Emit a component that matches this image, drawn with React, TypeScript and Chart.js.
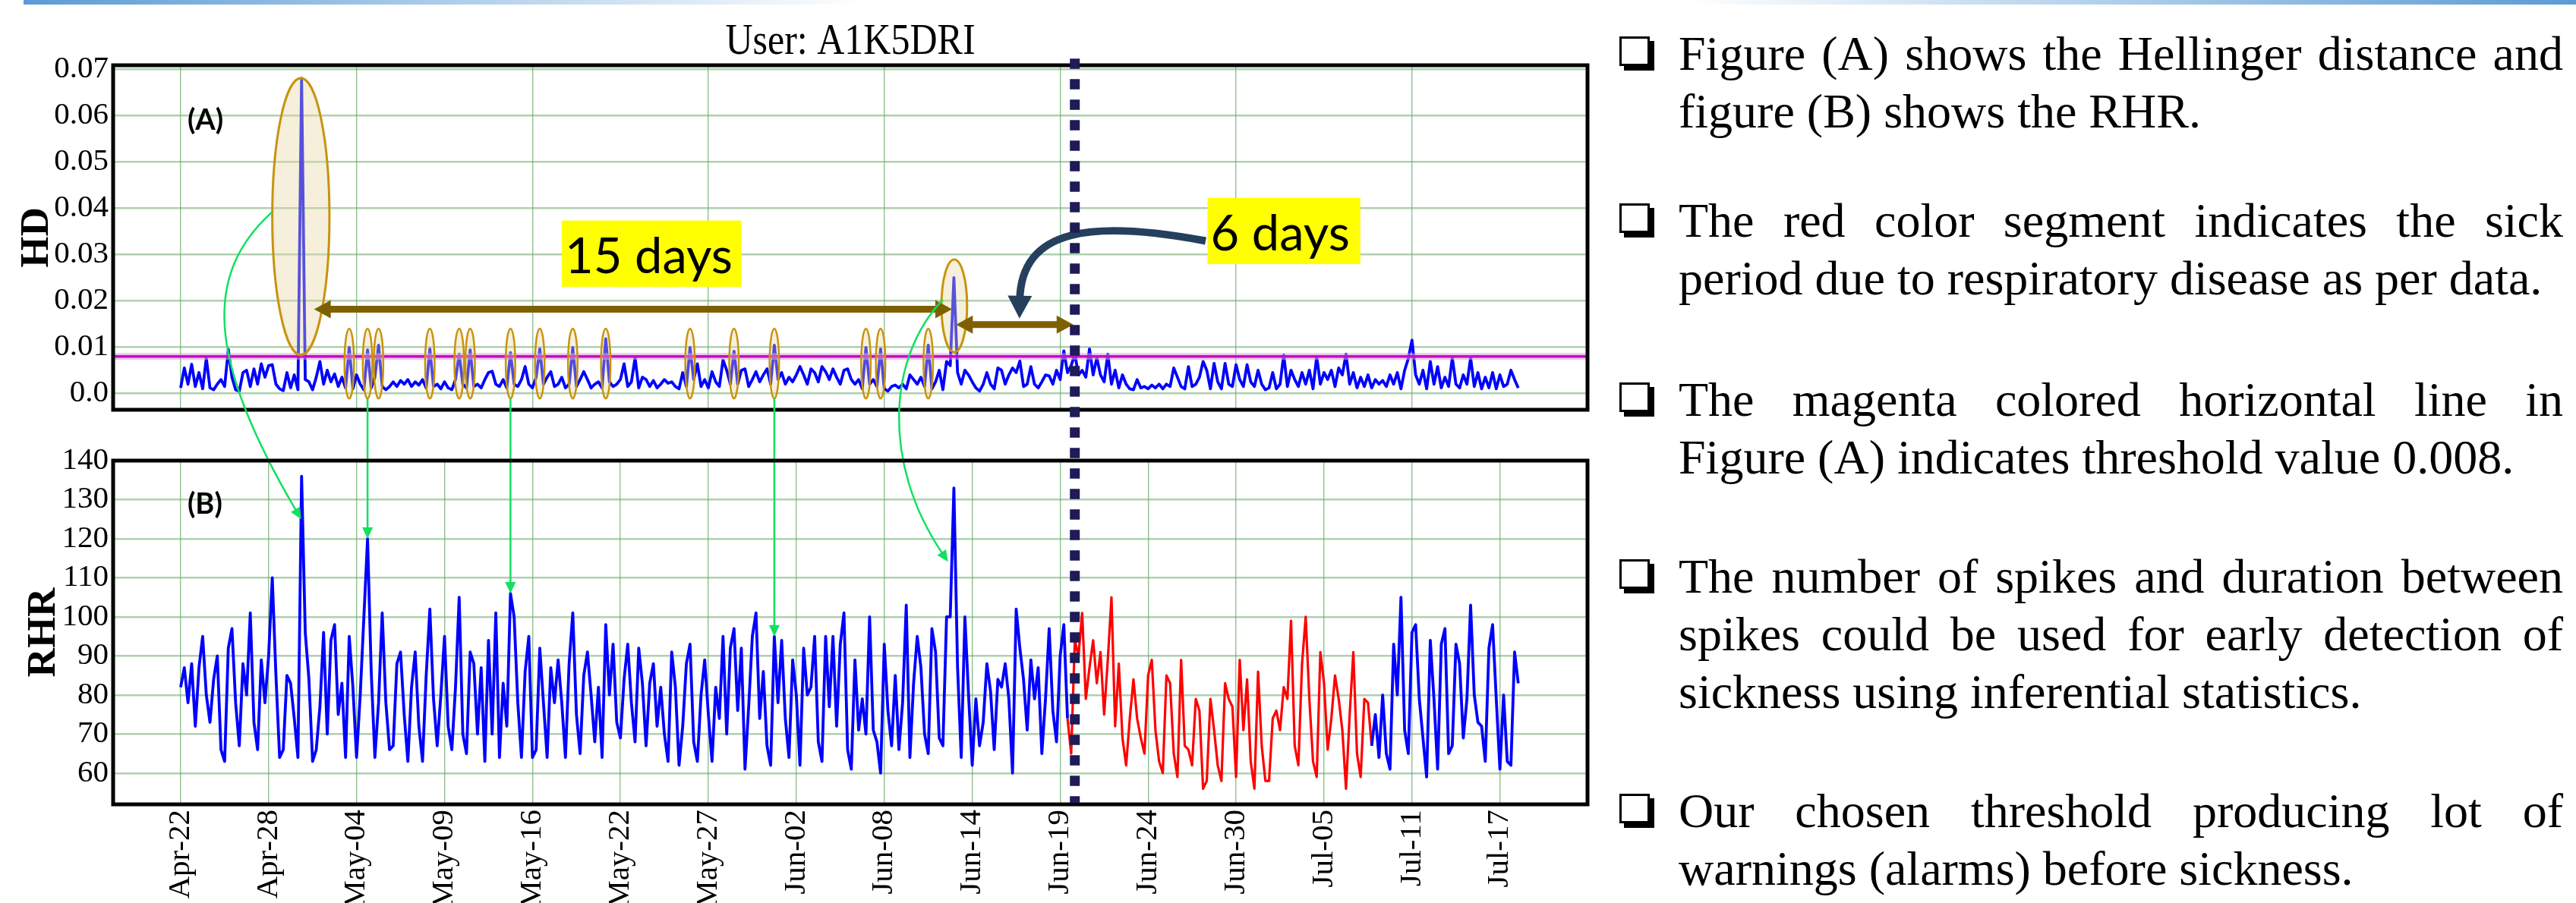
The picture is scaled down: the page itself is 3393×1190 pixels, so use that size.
import React, { useEffect, useRef } from 'react';
import { Chart, registerables } from 'chart.js';

Chart.register(...registerables);

// ---------------- data ----------------
const X_LABELS = ['Apr-22', 'Apr-28', 'May-04', 'May-09', 'May-16', 'May-22', 'May-27', 'Jun-02', 'Jun-08', 'Jun-14', 'Jun-19', 'Jun-24', 'Jun-30', 'Jul-05', 'Jul-11', 'Jul-17'];
const SAMPLES_PER_TICK = 24;

const HD_VALUES = [
  0.0012, 0.0055, 0.0020, 0.0063, 0.0015, 0.0045, 0.0010, 0.0076, 0.0012, 0.0008, 0.0020, 0.0030,
  0.0015, 0.0095, 0.0035, 0.0008, 0.0005, 0.0045, 0.0050, 0.0015, 0.0053, 0.0020, 0.0064, 0.0035,
  0.0060, 0.0062, 0.0020, 0.0010, 0.0006, 0.0045, 0.0012, 0.0040, 0.0008, 0.0680, 0.0030, 0.0025,
  0.0008, 0.0035, 0.0069, 0.0020, 0.0050, 0.0025, 0.0042, 0.0015, 0.0035, 0.0012, 0.0099, 0.0010,
  0.0040, 0.0020, 0.0008, 0.0094, 0.0012, 0.0035, 0.0104, 0.0015, 0.0008, 0.0015, 0.0025, 0.0015,
  0.0028, 0.0020, 0.0030, 0.0015, 0.0025, 0.0018, 0.0030, 0.0012, 0.0096, 0.0015, 0.0020, 0.0010,
  0.0025, 0.0012, 0.0008, 0.0030, 0.0085, 0.0020, 0.0012, 0.0094, 0.0015, 0.0020, 0.0012, 0.0030,
  0.0045, 0.0048, 0.0020, 0.0015, 0.0030, 0.0012, 0.0088, 0.0020, 0.0015, 0.0030, 0.0058, 0.0020,
  0.0012, 0.0035, 0.0096, 0.0020, 0.0035, 0.0047, 0.0015, 0.0020, 0.0035, 0.0012, 0.0020, 0.0099,
  0.0015, 0.0030, 0.0047, 0.0030, 0.0012, 0.0020, 0.0025, 0.0012, 0.0118, 0.0025, 0.0015, 0.0020,
  0.0030, 0.0064, 0.0015, 0.0025, 0.0077, 0.0012, 0.0035, 0.0030, 0.0015, 0.0028, 0.0012, 0.0020,
  0.0030, 0.0022, 0.0025, 0.0015, 0.0010, 0.0045, 0.0015, 0.0099, 0.0030, 0.0064, 0.0015, 0.0030,
  0.0012, 0.0047, 0.0025, 0.0015, 0.0072, 0.0050, 0.0020, 0.0091, 0.0020, 0.0050, 0.0053, 0.0015,
  0.0030, 0.0047, 0.0025, 0.0040, 0.0053, 0.0020, 0.0104, 0.0030, 0.0045, 0.0020, 0.0035, 0.0025,
  0.0040, 0.0058, 0.0040, 0.0020, 0.0053, 0.0045, 0.0025, 0.0058, 0.0047, 0.0030, 0.0053, 0.0035,
  0.0020, 0.0050, 0.0053, 0.0030, 0.0020, 0.0030, 0.0010, 0.0099, 0.0020, 0.0030, 0.0015, 0.0096,
  0.0010, 0.0005, 0.0015, 0.0018, 0.0012, 0.0020, 0.0010, 0.0040, 0.0030, 0.0020, 0.0035, 0.0015,
  0.0104, 0.0010, 0.0025, 0.0050, 0.0008, 0.0069, 0.0060, 0.0250, 0.0045, 0.0020, 0.0050, 0.0040,
  0.0025, 0.0012, 0.0005, 0.0020, 0.0045, 0.0020, 0.0010, 0.0055, 0.0050, 0.0020, 0.0040, 0.0055,
  0.0045, 0.0070, 0.0015, 0.0020, 0.0058, 0.0020, 0.0012, 0.0025, 0.0040, 0.0038, 0.0020, 0.0050,
  0.0030, 0.0092, 0.0045, 0.0060, 0.0085, 0.0040, 0.0050, 0.0035, 0.0096, 0.0040, 0.0077, 0.0040,
  0.0025, 0.0085, 0.0020, 0.0050, 0.0012, 0.0040, 0.0020, 0.0010, 0.0008, 0.0030, 0.0012, 0.0015,
  0.0010, 0.0018, 0.0012, 0.0020, 0.0010, 0.0020, 0.0015, 0.0055, 0.0035, 0.0015, 0.0010, 0.0058,
  0.0015, 0.0020, 0.0035, 0.0069, 0.0050, 0.0010, 0.0065, 0.0025, 0.0010, 0.0065, 0.0020, 0.0015,
  0.0062, 0.0030, 0.0015, 0.0062, 0.0025, 0.0015, 0.0050, 0.0020, 0.0008, 0.0012, 0.0045, 0.0010,
  0.0020, 0.0083, 0.0015, 0.0050, 0.0030, 0.0015, 0.0045, 0.0020, 0.0050, 0.0010, 0.0080, 0.0020,
  0.0045, 0.0030, 0.0050, 0.0015, 0.0055, 0.0040, 0.0085, 0.0020, 0.0045, 0.0012, 0.0035, 0.0015,
  0.0040, 0.0012, 0.0030, 0.0020, 0.0028, 0.0015, 0.0040, 0.0020, 0.0045, 0.0010, 0.0050, 0.0075,
  0.0115, 0.0040, 0.0020, 0.0050, 0.0010, 0.0069, 0.0020, 0.0058, 0.0012, 0.0035, 0.0015, 0.0077,
  0.0020, 0.0012, 0.0040, 0.0020, 0.0077, 0.0015, 0.0045, 0.0010, 0.0035, 0.0012, 0.0045, 0.0010,
  0.0040, 0.0015, 0.0020, 0.0050, 0.0030, 0.0012,
];

const RHR_VALUES = [
  82, 87, 78, 88, 72, 87, 95, 80, 73, 84, 90, 66,
  63, 92, 97, 78, 67, 88, 80, 101, 73, 66, 89, 78,
  90, 110, 85, 64, 66, 85, 83, 74, 64, 136, 96, 84,
  63, 66, 77, 96, 70, 94, 98, 75, 83, 64, 95, 82,
  64, 80, 100, 120, 86, 64, 78, 101, 78, 66, 67, 88,
  91, 75, 63, 82, 91, 72, 63, 85, 102, 79, 67, 80,
  95, 72, 66, 82, 105, 70, 65, 91, 88, 70, 87, 63,
  94, 70, 101, 64, 83, 72, 106, 100, 78, 64, 86, 95,
  64, 66, 92, 78, 64, 87, 78, 89, 78, 64, 88, 101,
  75, 65, 85, 91, 80, 68, 82, 64, 98, 80, 93, 73,
  69, 84, 93, 78, 68, 92, 83, 67, 83, 88, 72, 82,
  70, 63, 91, 82, 62, 72, 88, 93, 68, 63, 80, 89,
  75, 63, 82, 74, 95, 70, 92, 97, 76, 92, 61, 77,
  95, 101, 74, 86, 67, 62, 95, 78, 94, 74, 64, 89,
  80, 62, 92, 80, 82, 95, 68, 63, 95, 77, 95, 72,
  93, 101, 66, 61, 89, 71, 79, 70, 100, 71, 68, 60,
  93, 76, 67, 85, 66, 78, 103, 64, 83, 95, 87, 70,
  65, 97, 91, 69, 67, 100, 100, 133, 87, 64, 100, 80,
  62, 79, 67, 73, 88, 81, 66, 84, 82, 88, 79, 60,
  102, 92, 84, 71, 89, 79, 87, 65, 79, 97, 76, 68,
  90, 98, 74, 65, 94, 90, 101, 79, 87, 94, 83, 91,
  75, 89, 105, 72, 88, 69, 62, 74, 84, 74, 69, 65,
  85, 89, 71, 63, 60, 85, 83, 65, 59, 89, 67, 66,
  62, 79, 76, 56, 58, 79, 71, 62, 58, 83, 79, 77,
  59, 89, 71, 84, 63, 56, 86, 67, 58, 58, 74, 76,
  71, 82, 79, 99, 67, 62, 88, 100, 79, 63, 59, 91,
  83, 66, 74, 85, 79, 71, 56, 75, 91, 65, 59, 79,
  78, 67, 75, 64, 80, 65, 61, 93, 80, 105, 71, 65,
  96, 98, 79, 69, 59, 94, 79, 61, 93, 97, 65, 67,
  93, 88, 69, 79, 103, 80, 73, 72, 63, 92, 98, 79,
  61, 80, 63, 62, 91, 83,
];

const HD_TICKS = [0, 0.01, 0.02, 0.03, 0.04, 0.05, 0.06, 0.07];
const HD_TICK_LABELS = ['0.0', '0.01', '0.02', '0.03', '0.04', '0.05', '0.06', '0.07'];
const RHR_TICKS = [60, 70, 80, 90, 100, 110, 120, 130, 140];
const HD_THRESHOLD = 0.008;
const SICK_START = 242;
const SICK_END = 325;
const ONSET_IDX = 244;
const X_RANGE = [-18.43, 383.9];
const HD_RANGE = [-0.00352, 0.0708];
const RHR_RANGE = [52, 140];

// alarm spikes (sample index) circled in figure (A)
const ALARM_IDX = [46, 51, 54, 68, 76, 79, 90, 98, 107, 116, 139, 151, 162, 187, 191, 204];
const MAJOR_ALARMS = [
  { idx: 32.8, half: 7.8, top: 0.068, bottom: 0.0083 },
  { idx: 211.1, half: 3.5, top: 0.0289, bottom: 0.0089 },
];
const SPAN_ARROWS = [
  { from: 36.4, to: 210.5, y: 0.01815 },
  { from: 211.6, to: 243.6, y: 0.01487 },
];
const CALLOUTS = [
  { text: '15 days', x0: 104, x1: 153, y0: 0.0373, y1: 0.023 },
  { text: '6 days', x0: 280.2, x1: 321.9, y0: 0.0422, y1: 0.0279 },
];
const STRAIGHT_LINKS = [51, 90, 162];
const CURVED_LINKS = [
  { p: [[24.9, 0.0391, 'A'], [6.6, 0.026, 'A'], [6.6, 0.008, 'A'], [32.9, 125, 'B']] },
  { p: [[208, 0.02025, 'A'], [193.1, 0.008, 'A'], [191, 139.5, 'B'], [209.4, 114.1, 'B']] },
];
const NAVY_ARROW = [[279.7, 0.0329], [249, 0.03746], [229.3, 0.0358], [228.9, 0.01615]];

const NOTES = [
  ['Figure (A) shows the Hellinger distance and', 'figure (B) shows the RHR.'],
  ['The red color segment indicates the sick', 'period due to respiratory disease as per data.'],
  ['The magenta colored horizontal line in', 'Figure (A) indicates threshold value 0.008.'],
  ['The number of spikes and duration between', 'spikes could be used for early detection of', 'sickness using inferential statistics.'],
  ['Our chosen threshold producing lot of', 'warnings (alarms) before sickness.'],
];

// ---------------- layout ----------------
const CW = 2200;
const CH = 1190;
const PLOT_LEFT = 149;
const PLOT_RIGHT = 2091;
const A_TOP = 86;
const A_BOTTOM = 540;
const B_TOP = 607;
const B_BOTTOM = 1060;
const NOTE_BASELINES = [92, 312, 548, 781, 1090];
const NOTE_GAP = 76;

const SERIF = '"Liberation Serif", "Times New Roman", serif';
const SANS = 'Lato, "Open Sans", sans-serif';
const H_GRID = 'rgba(110,170,110,0.55)';
const V_GRID = 'rgba(70,150,70,0.6)';
const GREEN = '#12E060';

function arrowHead(ctx: CanvasRenderingContext2D, tx: number, ty: number, ux: number, uy: number, len: number, half: number) {
  const bx = tx - ux * len;
  const by = ty - uy * len;
  ctx.beginPath();
  ctx.moveTo(tx, ty);
  ctx.lineTo(bx - uy * half, by + ux * half);
  ctx.lineTo(bx + uy * half, by - ux * half);
  ctx.closePath();
  ctx.fill();
}

function curveArrow(ctx: CanvasRenderingContext2D, p0: any, p1: any, p2: any, tip: any, width: number, len: number, half: number, color: string) {
  const dx = tip.x - p2.x;
  const dy = tip.y - p2.y;
  const d = Math.hypot(dx, dy) || 1;
  const ux = dx / d;
  const uy = dy / d;
  ctx.strokeStyle = color;
  ctx.fillStyle = color;
  ctx.lineWidth = width;
  ctx.lineCap = 'butt';
  const bx = tip.x - ux * len * 0.8;
  const by = tip.y - uy * len * 0.8;
  ctx.beginPath();
  ctx.moveTo(p0.x, p0.y);
  ctx.bezierCurveTo(p1.x, p1.y, p2.x, p2.y, bx, by);
  ctx.stroke();
  arrowHead(ctx, tip.x, tip.y, ux, uy, len, half);
}

function spanArrow(ctx: CanvasRenderingContext2D, x1: number, x2: number, y: number, color: string) {
  const shaft = 9;
  const len = 22;
  const half = 12;
  ctx.fillStyle = color;
  ctx.beginPath();
  ctx.moveTo(x1, y);
  ctx.lineTo(x1 + len, y - half);
  ctx.lineTo(x1 + len, y - shaft / 2);
  ctx.lineTo(x2 - len, y - shaft / 2);
  ctx.lineTo(x2 - len, y - half);
  ctx.lineTo(x2, y);
  ctx.lineTo(x2 - len, y + half);
  ctx.lineTo(x2 - len, y + shaft / 2);
  ctx.lineTo(x1 + len, y + shaft / 2);
  ctx.lineTo(x1 + len, y + half);
  ctx.closePath();
  ctx.fill();
}

function frame(chart: any) {
  const { ctx, chartArea: a } = chart;
  ctx.save();
  ctx.strokeStyle = '#000';
  ctx.lineWidth = 5;
  ctx.strokeRect(a.left, a.top, a.right - a.left, a.bottom - a.top);
  ctx.restore();
}

export default function App() {
  const aRef = useRef<HTMLCanvasElement>(null);
  const bRef = useRef<HTMLCanvasElement>(null);

  useEffect(() => {
    const idx = HD_VALUES.map((_, i) => i);

    const overlayA = {
      id: 'overlayA',
      afterDatasetsDraw(chart: any) {
        const { ctx } = chart;
        const x = chart.scales.x;
        const y = chart.scales.y;
        ctx.save();
        // small alarm ellipses
        ALARM_IDX.forEach((i) => {
          const cx = x.getPixelForValue(i);
          const rx = x.getPixelForValue(i + 1.3) - cx;
          const top = y.getPixelForValue(0.014);
          const bot = y.getPixelForValue(-0.0011);
          ctx.beginPath();
          ctx.ellipse(cx, (top + bot) / 2, rx, (bot - top) / 2, 0, 0, Math.PI * 2);
          ctx.fillStyle = 'rgba(228,212,160,0.35)';
          ctx.fill();
          ctx.lineWidth = 2.5;
          ctx.strokeStyle = '#C8930E';
          ctx.stroke();
        });
        MAJOR_ALARMS.forEach((m) => {
          const cx = x.getPixelForValue(m.idx);
          const rx = x.getPixelForValue(m.idx + m.half) - cx;
          const top = y.getPixelForValue(m.top);
          const bot = y.getPixelForValue(m.bottom);
          ctx.beginPath();
          ctx.ellipse(cx, (top + bot) / 2, rx, (bot - top) / 2, 0, 0, Math.PI * 2);
          ctx.fillStyle = 'rgba(228,212,160,0.38)';
          ctx.fill();
          ctx.lineWidth = 3;
          ctx.strokeStyle = '#C8930E';
          ctx.stroke();
        });
        // span arrows
        SPAN_ARROWS.forEach((s) => {
          spanArrow(ctx, x.getPixelForValue(s.from), x.getPixelForValue(s.to), y.getPixelForValue(s.y), '#7F6000');
        });
        // callouts
        CALLOUTS.forEach((c) => {
          const l = x.getPixelForValue(c.x0);
          const r = x.getPixelForValue(c.x1);
          const t = y.getPixelForValue(c.y0);
          const b = y.getPixelForValue(c.y1);
          ctx.fillStyle = '#FFFF00';
          ctx.fillRect(l, t, r - l, b - t);
          ctx.fillStyle = '#000';
          ctx.font = `65px ${SANS}`;
          ctx.textAlign = 'left';
          ctx.textBaseline = 'alphabetic';
          ctx.fillText(c.text, l + 4, t + (b - t) * 0.79);
        });
        // navy curved arrow
        const np = NAVY_ARROW.map(([i, v]) => ({ x: x.getPixelForValue(i), y: y.getPixelForValue(v) }));
        curveArrow(ctx, np[0], np[1], np[2], np[3], 10, 30, 16, '#25405E');
        ctx.restore();
      },
      afterDraw(chart: any) {
        frame(chart);
        const { ctx, chartArea: a } = chart;
        const x = chart.scales.x;
        const y = chart.scales.y;
        ctx.save();
        ctx.fillStyle = '#000';
        ctx.font = `57px ${SERIF}`;
        ctx.textAlign = 'center';
        ctx.textBaseline = 'alphabetic';
        ctx.translate((a.left + a.right) / 2, a.top - 14.6);
        ctx.scale(0.877, 1);
        ctx.fillText('User: A1K5DRI', 0, 0);
        ctx.restore();
        ctx.save();
        ctx.fillStyle = '#000';
        ctx.font = `bold 38px ${SANS}`;
        ctx.textAlign = 'left';
        ctx.textBaseline = 'middle';
        ctx.fillText('(A)', x.getPixelForValue(1.86), y.getPixelForValue(0.0589));
        ctx.restore();
      },
    };

    const chartA = new Chart(aRef.current as HTMLCanvasElement, {
      type: 'line',
      data: {
        labels: idx,
        datasets: [
          {
            data: [{ x: X_RANGE[0], y: HD_THRESHOLD }, { x: X_RANGE[1], y: HD_THRESHOLD }],
            borderColor: '#C010C0',
            borderWidth: 3.5,
            pointRadius: 0,
          },
          {
            data: [{ x: X_RANGE[0], y: HD_THRESHOLD }, { x: X_RANGE[1], y: HD_THRESHOLD }],
            borderColor: 'rgba(226,150,226,0.55)',
            borderWidth: 9,
            pointRadius: 0,
          },
          {
            data: HD_VALUES,
            borderColor: '#0000FF',
            borderWidth: 3.8,
            pointRadius: 0,
            tension: 0,
            borderJoinStyle: 'round',
          },
        ],
      },
      options: {
        responsive: false,
        animation: false,
        events: [],
        layout: { autoPadding: false, padding: { left: 0, top: A_TOP, right: CW - PLOT_RIGHT, bottom: CH - A_BOTTOM } },
        plugins: { legend: { display: false }, tooltip: { enabled: false }, title: { display: false } },
        scales: {
          x: {
            type: 'linear',
            min: X_RANGE[0],
            max: X_RANGE[1],
            afterBuildTicks: (axis: any) => {
              axis.ticks = X_LABELS.filter((_, i) => i % 2 === 0).map((_, i) => ({ value: i * 2 * SAMPLES_PER_TICK }));
            },
            afterFit: (axis: any) => {
              axis.height = 0;
              axis.paddingLeft = 0;
              axis.paddingRight = 0;
            },
            ticks: { display: false },
            grid: { color: V_GRID, lineWidth: 1.4, drawTicks: false },
            border: { display: false },
          },
          y: {
            type: 'linear',
            min: HD_RANGE[0],
            max: HD_RANGE[1],
            afterBuildTicks: (axis: any) => {
              axis.ticks = HD_TICKS.map((v) => ({ value: v }));
            },
            afterFit: (axis: any) => {
              axis.width = PLOT_LEFT;
              axis.paddingTop = 0;
              axis.paddingBottom = 0;
            },
            ticks: {
              callback: (_v: any, i: number) => HD_TICK_LABELS[i],
              font: { family: SERIF, size: 41 },
              color: '#000',
              padding: 6,
            },
            grid: { color: H_GRID, lineWidth: 2.5, drawTicks: false },
            border: { display: false },
            title: {
              display: true,
              text: 'HD',
              color: '#000',
              font: { family: SERIF, size: 53, weight: 'bold' },
              padding: { top: 18, bottom: 0 },
            },
          },
        },
      },
      plugins: [overlayA],
    } as any);

    const overlayB = {
      id: 'overlayB',
      afterDatasetsDraw(chart: any) {
        const { ctx } = chart;
        const x = chart.scales.x;
        const yB = chart.scales.y;
        const yA = chartA.scales.y;
        const pt = (p: any) => ({ x: x.getPixelForValue(p[0]), y: (p[2] === 'A' ? yA : yB).getPixelForValue(p[1]) });
        ctx.save();
        ctx.strokeStyle = GREEN;
        ctx.fillStyle = GREEN;
        ctx.lineWidth = 2.5;
        STRAIGHT_LINKS.forEach((i) => {
          const px = x.getPixelForValue(i);
          const y0 = yA.getPixelForValue(-0.0011);
          const y1 = yB.getPixelForValue(RHR_VALUES[i]);
          ctx.beginPath();
          ctx.moveTo(px, y0);
          ctx.lineTo(px, y1 - 12);
          ctx.stroke();
          arrowHead(ctx, px, y1, 0, 1, 15, 7);
        });
        CURVED_LINKS.forEach((c) => {
          const p = c.p.map(pt);
          curveArrow(ctx, p[0], p[1], p[2], p[3], 2.5, 15, 7, GREEN);
        });
        ctx.restore();
      },
      afterDraw(chart: any) {
        frame(chart);
        const { ctx } = chart;
        const x = chart.scales.x;
        const y = chart.scales.y;
        ctx.save();
        ctx.fillStyle = '#000';
        ctx.font = `bold 38px ${SANS}`;
        ctx.textAlign = 'left';
        ctx.textBaseline = 'middle';
        ctx.fillText('(B)', x.getPixelForValue(1.86), y.getPixelForValue(128.8));
        // sickness onset dashed line spanning both panels
        const ox = x.getPixelForValue(ONSET_IDX);
        ctx.strokeStyle = '#1E1B58';
        ctx.lineWidth = 13;
        ctx.lineCap = 'butt';
        ctx.setLineDash([13.4, 13.6]);
        ctx.beginPath();
        ctx.moveTo(ox, chartA.chartArea.top - 8.7);
        ctx.lineTo(ox, chart.chartArea.bottom - 2);
        ctx.stroke();
        ctx.restore();
      },
    };

    const chartB = new Chart(bRef.current as HTMLCanvasElement, {
      type: 'line',
      data: {
        labels: idx,
        datasets: [
          {
            data: RHR_VALUES,
            borderColor: '#0000FF',
            borderWidth: 3.8,
            pointRadius: 0,
            tension: 0,
            borderJoinStyle: 'round',
            segment: {
              borderColor: (c: any) => (c.p0DataIndex >= SICK_START && c.p0DataIndex < SICK_END ? '#FF0000' : '#0000FF'),
              borderWidth: (c: any) => (c.p0DataIndex >= SICK_START && c.p0DataIndex < SICK_END ? 3.2 : 3.8),
            },
          },
        ],
      },
      options: {
        responsive: false,
        animation: false,
        events: [],
        layout: { autoPadding: false, padding: { left: 0, top: B_TOP, right: CW - PLOT_RIGHT, bottom: 0 } },
        plugins: { legend: { display: false }, tooltip: { enabled: false }, title: { display: false } },
        scales: {
          x: {
            type: 'linear',
            min: X_RANGE[0],
            max: X_RANGE[1],
            afterBuildTicks: (axis: any) => {
              axis.ticks = X_LABELS.map((_, i) => ({ value: i * SAMPLES_PER_TICK }));
            },
            afterFit: (axis: any) => {
              axis.height = CH - B_BOTTOM;
              axis.paddingLeft = 0;
              axis.paddingRight = 0;
            },
            ticks: {
              callback: (_v: any, i: number) => X_LABELS[i],
              autoSkip: false,
              minRotation: 90,
              maxRotation: 90,
              font: { family: SERIF, size: 41 },
              color: '#000',
              padding: 7,
            },
            grid: { color: V_GRID, lineWidth: 1.4, drawTicks: false },
            border: { display: false },
          },
          y: {
            type: 'linear',
            min: RHR_RANGE[0],
            max: RHR_RANGE[1],
            afterBuildTicks: (axis: any) => {
              axis.ticks = RHR_TICKS.map((v) => ({ value: v }));
            },
            afterFit: (axis: any) => {
              axis.width = PLOT_LEFT;
              axis.paddingTop = 0;
              axis.paddingBottom = 0;
            },
            ticks: {
              callback: (v: any) => String(v),
              font: { family: SERIF, size: 41 },
              color: '#000',
              padding: 6,
            },
            grid: { color: H_GRID, lineWidth: 2.5, drawTicks: false },
            border: { display: false },
            title: {
              display: true,
              text: 'RHR',
              color: '#000',
              font: { family: SERIF, size: 53, weight: 'bold' },
              padding: { top: 27, bottom: 0 },
            },
          },
        },
      },
      plugins: [overlayB],
    } as any);

    return () => {
      chartB.destroy();
      chartA.destroy();
    };
  }, []);

  return (
    <div style={{ position: 'absolute', left: 0, top: 0, width: 3393, height: 1190, overflow: 'hidden', background: '#fff' }}>
      <div
        style={{
          position: 'absolute',
          left: 31,
          top: 0,
          width: 3362,
          height: 6,
          background: 'linear-gradient(to right, #5B9BD5 0%, #ffffff 33%, #ffffff 65%, #5B9BD5 100%)',
        }}
      />
      <canvas ref={aRef} width={CW} height={CH} style={{ position: 'absolute', left: 0, top: 0, width: CW, height: CH }} />
      <canvas ref={bRef} width={CW} height={CH} style={{ position: 'absolute', left: 0, top: 0, width: CW, height: CH }} />
      {NOTE_BASELINES.map((b, p) => (
        <div
          key={'box' + p}
          style={{
            position: 'absolute',
            left: 2133,
            top: b - 44,
            width: 34,
            height: 33,
            border: '3px solid #000',
            background: '#fff',
            boxShadow: '6px 6px 0 #000',
          }}
        />
      ))}
      {NOTES.map((para, p) =>
        para.map((line, l) => {
          const baseline = NOTE_BASELINES[p] + l * NOTE_GAP;
          const last = l === para.length - 1;
          return (
            <div
              key={p + '-' + l}
              style={{
                position: 'absolute',
                left: 2211,
                top: baseline - 60,
                width: 1165,
                height: 77,
                lineHeight: '77px',
                fontFamily: SERIF,
                fontSize: 64,
                color: '#000',
                textAlign: last ? 'left' : 'justify',
                textAlignLast: last ? 'left' : 'justify',
              } as any}
            >
              {line}
            </div>
          );
        })
      )}
    </div>
  );
}
